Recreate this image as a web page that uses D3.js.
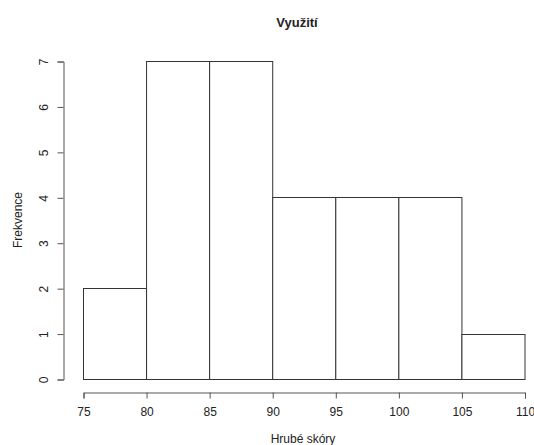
<!DOCTYPE html>
<html>
<head>
<meta charset="utf-8">
<script src="https://cdn.jsdelivr.net/npm/d3@7"></script>
<style>
	body { margin: 0; background: #fff; }
	svg text { font-family: "Liberation Sans", Arial, sans-serif; fill: #222; }
</style>
</head>
<body>
<svg id="chart"></svg>
<script>
// histogram bins (Hrubé skóry) and their counts
let binStarts = [75, 80, 85, 90, 95, 100, 105];
let binWidth = 5;
let counts = [2, 7, 7, 4, 4, 4, 1];
let xTicks = [75, 80, 85, 90, 95, 100, 105, 110];
let yTicks = [0, 1, 2, 3, 4, 5, 6, 7];

let W = 534, H = 445;

const svg = d3.select('#chart')
	.attr('width', W)
	.attr('height', H);

// scales picked so 75..110 and 0..7 land where R put them
const x = d3.scaleLinear().domain([75, 110]).range([83, 524.5]);
const y = d3.scaleLinear().domain([0, 7]).range([379, 61]);

svg.selectAll('rect.bar')
	.data(binStarts)
	.enter()
	.append('rect')
	.attr('class', 'bar')
	.attr('x', d => x(d) + 0.5)
	.attr('y', (d, i) => Math.round(y(counts[i])) + 0.5)
	.attr('width', d => x(d + binWidth) - x(d))
	.attr('height', (d, i) => Math.round(y(0)) - Math.round(y(counts[i])))
	.attr('fill', '#fff')
	.attr('stroke', '#333')
	.attr('stroke-width', 1);

const xAxis = d3.axisBottom(x)
	.tickValues(xTicks)
	.tickFormat(d3.format('d'))
	.tickSizeOuter(0)
	.tickSize(6)
	.tickPadding(9);

const gx = svg.append('g')
	.attr('transform', 'translate(0.5, 392.5)')
	.call(xAxis);
gx.select('.domain').attr('stroke', '#555');
gx.selectAll('.tick line').attr('stroke', '#555');
gx.selectAll('text').attr('font-size', 12).attr('fill', '#222');

const yAxis = d3.axisLeft(y)
	.tickValues(yTicks)
	.tickFormat(d3.format('d'))
	.tickSizeOuter(0)
	.tickSize(6)
	.tickPadding(0);

const gy = svg.append('g')
	.attr('transform', 'translate(63.5, 0.5)')
	.call(yAxis);
gy.select('.domain').attr('stroke', '#555');
gy.selectAll('.tick line').attr('stroke', '#555');
// R draws y labels turned sideways
gy.selectAll('.tick text')
	.attr('x', null).attr('dy', null)
	.attr('transform', 'translate(-16, 0) rotate(-90)')
	.attr('text-anchor', 'middle')
	.attr('font-size', 12)
	.attr('fill', '#222');

svg.append('text')
	.attr('x', 297)
	.attr('y', 27)
	.attr('text-anchor', 'middle')
	.attr('font-weight', 'bold')
	.attr('font-size', 13)
	.text('Využití');

svg.append('text')
	.attr('x', 303)
	.attr('y', 443)
	.attr('text-anchor', 'middle')
	.attr('font-size', 12)
	.text('Hrubé skóry');

svg.append('text')
	.attr('transform', 'translate(22, 220) rotate(-90)')
	.attr('text-anchor', 'middle')
	.attr('font-size', 12)
	.text('Frekvence');
</script>
</body>
</html>
